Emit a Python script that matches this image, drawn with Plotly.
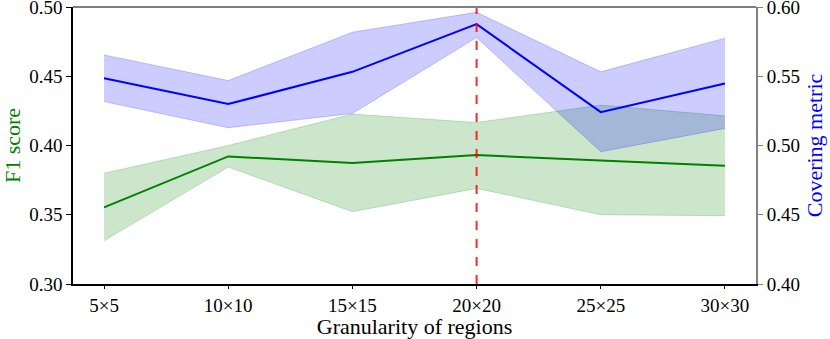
import plotly.graph_objects as go

categories = ["5×5", "10×10", "15×15", "20×20", "25×25", "30×30"]
best = "20×20"

f1_ticks = [0.30, 0.35, 0.40, 0.45, 0.50]
cov_ticks = [0.40, 0.45, 0.50, 0.55, 0.60]

f1_mean = [0.3553, 0.3921, 0.3873, 0.3931, 0.3892, 0.3854]
f1_upper = [0.380, 0.400, 0.4227, 0.4166, 0.4292, 0.4214]
f1_lower = [0.3312, 0.3844, 0.3522, 0.3690, 0.350, 0.3493]

cov_mean = [0.5486, 0.5299, 0.5532, 0.5876, 0.5241, 0.5447]
cov_upper = [0.5654, 0.5469, 0.5818, 0.5962, 0.5532, 0.5775]
cov_lower = [0.5317, 0.5128, 0.5231, 0.5779, 0.4955, 0.5123]

serif = "Liberation Serif"
fig = go.Figure()


def band(up, lo, rgb, axis):
    fill = "rgba(%s,0.2)" % rgb
    fig.add_trace(go.Scatter(x=categories, y=up, mode="lines", yaxis=axis,
                             line=dict(color=fill, width=1), showlegend=False, hoverinfo="skip"))
    fig.add_trace(go.Scatter(x=categories, y=lo, mode="lines", yaxis=axis, fill="tonexty",
                             fillcolor=fill, line=dict(color=fill, width=1), showlegend=False, hoverinfo="skip"))


band(f1_upper, f1_lower, "0,128,0", "y")
fig.add_trace(go.Scatter(x=categories, y=f1_mean, mode="lines", name="F1 score",
                         line=dict(color="green", width=2), yaxis="y"))
band(cov_upper, cov_lower, "0,0,255", "y2")
fig.add_trace(go.Scatter(x=categories, y=cov_mean, mode="lines", name="Covering metric",
                         line=dict(color="blue", width=2), yaxis="y2"))

# best granularity marker
fig.add_shape(type="line", xref="x", yref="paper", x0=categories.index(best), x1=categories.index(best),
              y0=0, y1=1, line=dict(color="rgba(255,0,0,0.85)", width=2, dash="dash"), layer="above")
# top spine
fig.add_shape(type="line", xref="paper", yref="paper", x0=0, x1=1, y0=1, y1=1,
              line=dict(color="#808080", width=2))

tickfont = dict(family=serif, size=19, color="black")
fig.update_layout(
    width=830, height=339,
    margin=dict(l=73, r=74, t=7, b=55),
    plot_bgcolor="white", paper_bgcolor="white",
    showlegend=False,
    font=dict(family=serif, size=19, color="black"),
    xaxis=dict(type="category", range=[-0.25, 5.25], showgrid=False, zeroline=False, automargin=False,
               showline=True, linecolor="black", linewidth=1.5,
               ticks="outside", ticklen=3, tickcolor="black", tickfont=tickfont,
               title=dict(text="Granularity of regions", font=dict(family=serif, size=22), standoff=2)),
    yaxis=dict(range=[0.30, 0.50], tickvals=f1_ticks, tickformat=".2f", showgrid=False, zeroline=False,
               showline=True, linecolor="black", linewidth=1.5, ticklabeloverflow="allow", automargin=False,
               ticks="outside", ticklen=5, tickcolor="black", tickfont=tickfont,
               title=dict(text="F1 score", font=dict(family=serif, size=22, color="green"), standoff=4)),
    yaxis2=dict(range=[0.40, 0.60], tickvals=cov_ticks, tickformat=".2f", overlaying="y", side="right",
                showgrid=False, zeroline=False, ticklabeloverflow="allow", automargin=False,
                showline=True, linecolor="#808080", linewidth=2,
                ticks="outside", ticklen=5, tickcolor="#808080", tickfont=tickfont,
                title=dict(text="Covering metric", font=dict(family=serif, size=22, color="blue"), standoff=8)),
)

fig.write_html("out.html", config={"displayModeBar": False},
               post_script="document.body.style.margin='0';")
